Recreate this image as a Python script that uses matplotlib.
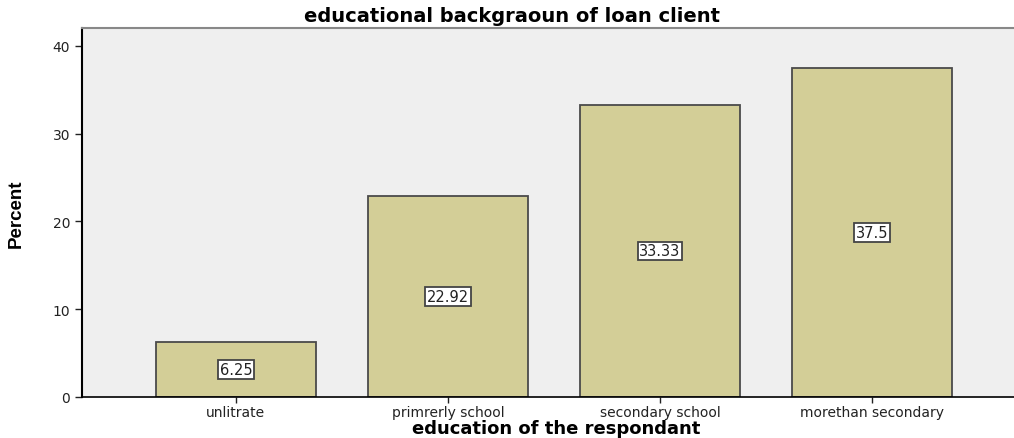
import matplotlib.pyplot as plt
import numpy as np

#data
categories = ["unlitrate", "primrerly school", "secondary school", "morethan secondary"]
percent = [6.25, 22.92, 33.33, 37.5]
value_labels = ["6.25", "22.92", "33.33", "37.5"]

fig = plt.figure(figsize=(10.14, 4.39), dpi=100)
ax = fig.add_axes([82 / 1014, 41 / 439, 1 - 82 / 1014, 369 / 439])
ax.set_facecolor("#EFEFEF")

x = np.arange(len(categories))
bars = ax.bar(x, percent, width=0.755, color="#D3CE97", edgecolor="#4A4A4A", linewidth=1.3, zorder=2)

#boxed labels in the middle of each bar
for b, lab in zip(bars, value_labels):
    ax.text(b.get_x() + b.get_width() / 2, b.get_height() / 2, lab,
            ha="center", va="center", fontsize=10.5, color="#222222", zorder=3,
            bbox=dict(boxstyle="square,pad=0.12", fc="white", ec="#444444", lw=1.3))

ax.set_xlim(-0.726, 3.67)
ax.set_ylim(0, 42.05)
ax.set_yticks([0, 10, 20, 30, 40])
ax.set_xticks(x)
ax.set_xticklabels(categories)
ax.tick_params(axis="both", labelsize=10, colors="#222222", length=5, width=1)
ax.tick_params(axis="x", length=4, pad=2)

ax.spines["right"].set_visible(False)
ax.spines["top"].set_color("#888888")
ax.spines["top"].set_linewidth(1.5)
ax.spines["left"].set_linewidth(1.5)
ax.spines["bottom"].set_linewidth(1.2)

ax.set_ylabel("Percent", fontsize=13.5, fontweight="bold",
              family=["Liberation Sans Narrow", "Liberation Sans"], labelpad=20)
fig.text(556 / 1014, 5 / 439, "education of the respondant", ha="center", va="baseline",
         fontsize=13, fontweight="bold")
fig.text(0.505, 0.962, "educational backgraoun of loan client", ha="center", va="center",
         fontsize=14, fontweight="bold")

fig.savefig("out.png", dpi=100)
